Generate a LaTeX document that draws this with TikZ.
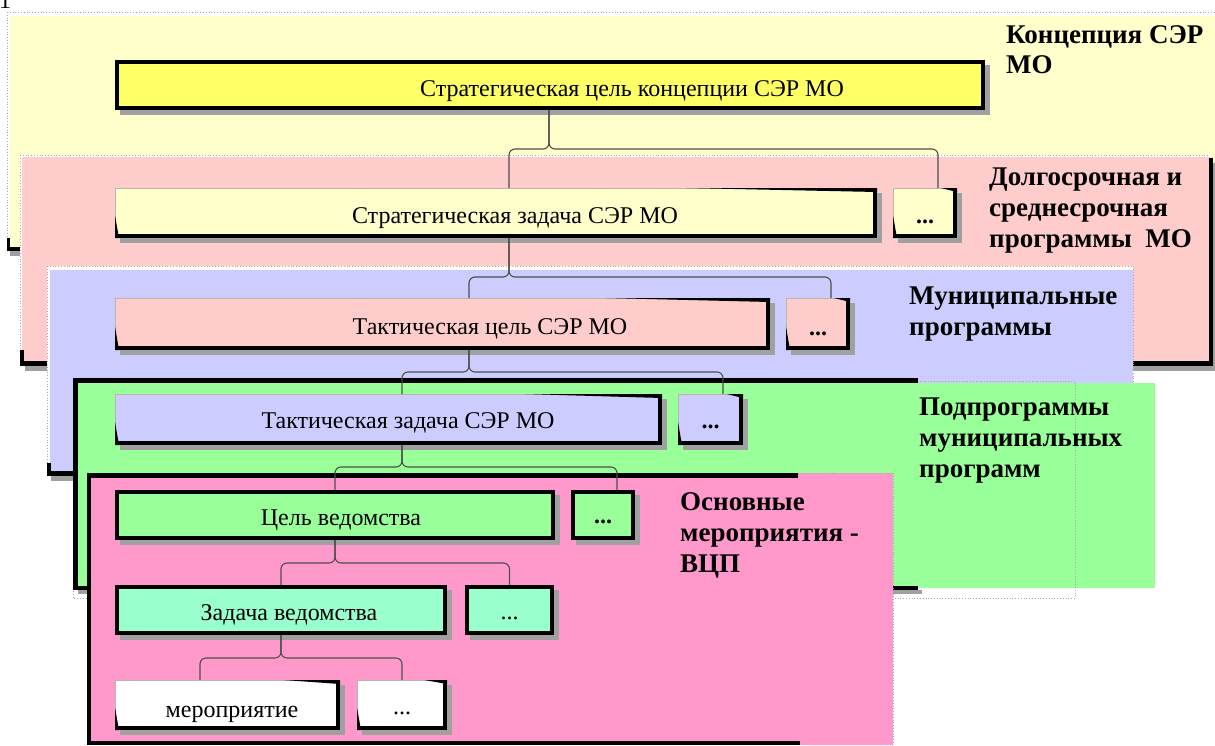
\documentclass[tikz,border=0pt]{standalone}
\usepackage{fontspec}
\setmainfont{Liberation Serif}
\usetikzlibrary{calc,shadows}
\definecolor{ylight}{HTML}{FFFFCC}
\definecolor{ybox}{HTML}{FFFF66}
\definecolor{pinkl}{HTML}{FFCCCC}
\definecolor{bluel}{HTML}{CCCCFF}
\definecolor{greenl}{HTML}{99FF99}
\definecolor{magl}{HTML}{FF99CC}
\definecolor{aqual}{HTML}{99FFCC}
\definecolor{shd}{HTML}{A0A0A0}
\definecolor{connc}{HTML}{4D4D4D}
\definecolor{dotc}{HTML}{A8A8A8}
\definecolor{thinb}{HTML}{BDB6A6}
\begin{document}
\begin{tikzpicture}[x=1pt,y=-1pt,
  bx/.style={rectangle, inner sep=0pt, outer sep=0pt,
     drop shadow={shadow xshift=5pt, shadow yshift=-5pt, fill=shd, opacity=1}},
  btxt/.style={font=\fontsize{24}{28}\selectfont, inner sep=0pt, anchor=base},
  bdots/.style={font=\fontsize{24}{28}\selectfont\bfseries, inner sep=0pt, anchor=base},
  ttl/.style={font=\fontsize{27}{31}\selectfont\bfseries, inner sep=0pt, anchor=base west},
  link/.style={draw=connc, line width=1.1pt, rounded corners=6pt},
  dotline/.style={draw=dotc, dotted, line width=0.8pt}]
\useasboundingbox (0,0) rectangle (1215,745);
\fill[white] (0,0) rectangle (1215,745);
\node[btxt] (pg) at (5,8) {1};

% ---------- panel 1 (yellow)
\fill[ylight] (10,16) rectangle (1215,252);
\draw[dotline] (7,12) -- (1215,12) (7,12) -- (7,240);
\fill[shd] (10,250) rectangle (23,256);
\fill (7,238) rectangle (10,251);
\fill (7,247) rectangle (22,251);

% ---------- panel 2 (pink)
\fill[shd] (25,163) rectangle (1218,371);
\fill[white] (20,155) rectangle (1213,366);
\fill[pinkl] (22,157) rectangle (1213,366);
\draw[dotline] (20,155) -- (1209,155) (20,155) -- (20,350);
\fill (1209,158) rectangle (1213,366);
\fill (20,361) rectangle (1213,366);
\fill (20,350) rectangle (24,366);

% ---------- panel 3 (blue)
\fill[white] (47,266) rectangle (1133,476);
\fill[bluel] (50,270) rectangle (1133,476);
\draw[dotline] (47,266) -- (1133,266) -- (1133,384) (47,266) -- (47,463);
\fill[shd] (51,476) rectangle (75,481);
\fill (47,463) rectangle (51,476);
\fill (47,471) rectangle (75,476);

% ---------- panel 4 (green)
\fill[greenl] (78,383) rectangle (1155,588);
\draw[dotline] (73,381) rectangle (1075,598);
\fill[shd] (78,590) rectangle (922,594);
\fill (73,378) rectangle (918,383);
\fill (73,378) rectangle (78,590);
\fill (73,586) rectangle (918,590);

% ---------- panel 5 (magenta)
\fill[magl] (87,473) rectangle (893,745);
\draw[dotline] (798,473) -- (893,473) -- (893,745);
\fill (87,473) rectangle (798,478);
\fill (87,473) rectangle (91,745);
\fill (87,741) rectangle (800,745);

% ---------- panel titles
\node[ttl] (h1a) at (1006,43) {Концепция СЭР};
\node[ttl] (h1b) at (1006,73) {МО};
\node[ttl] (h2a) at (989,185) {Долгосрочная и};
\node[ttl] (h2b) at (989,216) {среднесрочная};
\node[ttl] (h2c) at (989,247) {программы\ \ МО};
\node[ttl] (h3a) at (909,304) {Муниципальные};
\node[ttl] (h3b) at (909,335) {программы};
\node[ttl] (h4a) at (919,415) {Подпрограммы};
\node[ttl] (h4b) at (919,446) {муниципальных};
\node[ttl] (h4c) at (919,477) {программ};
\node[ttl] (h5a) at (680,510) {Основные};
\node[ttl] (h5b) at (680,541) {мероприятия -};
\node[ttl] (h5c) at (680,572) {ВЦП};

% ---------- boxes
\node[bx, fill=ybox,   minimum width=870pt, minimum height=50pt] (b1)  at (550,85) {};
\node[bx, fill=ylight, minimum width=762pt, minimum height=50pt] (b2)  at (496,213) {};
\node[bx, fill=ylight, minimum width=64pt,  minimum height=50pt] (b2d) at (925,213) {};
\node[bx, fill=pinkl,  minimum width=655pt, minimum height=52pt] (b3)  at (442.5,324) {};
\node[bx, fill=pinkl,  minimum width=64pt,  minimum height=52pt] (b3d) at (818,324) {};
\node[bx, fill=bluel,  minimum width=547pt, minimum height=51pt] (b4)  at (388.5,419.5) {};
\node[bx, fill=bluel,  minimum width=65pt,  minimum height=51pt] (b4d) at (710.5,419.5) {};
\node[bx, fill=greenl, minimum width=440pt, minimum height=50pt] (b5)  at (335,515) {};
\node[bx, fill=greenl, minimum width=64pt,  minimum height=50pt] (b5d) at (603,515) {};
\node[bx, fill=aqual,  minimum width=332pt, minimum height=50pt] (b6)  at (281,610) {};
\node[bx, fill=aqual,  minimum width=89pt,  minimum height=50pt] (b6d) at (509.5,610) {};
\node[bx, fill=white,  minimum width=225pt, minimum height=50pt] (b7)  at (227.5,705) {};
\node[bx, fill=white,  minimum width=90pt,  minimum height=50pt] (b7d) at (402,705) {};

% full black frames
\foreach \n in {b1,b5,b5d,b6,b6d}{
  \draw[line width=4pt] ([shift={(2pt,-2pt)}]\n.north west) rectangle ([shift={(-2pt,2pt)}]\n.south east);
}
% half (3D) frames
\foreach \n in {b2,b2d,b3,b3d,b4,b4d,b7,b7d}{
  \draw[thinb, line width=1pt] ([shift={(0.5pt,-0.5pt)}]\n.north west) rectangle ([shift={(-0.5pt,0.5pt)}]\n.south east);
  \fill (\n.south west) rectangle ([yshift=4pt]\n.south east);
  \fill ([xshift=-4pt]\n.north east) rectangle (\n.south east);
  \fill ($(\n.north west)!0.75!(\n.north east)$) -- (\n.north east) -- ([yshift=-4pt]\n.north east) -- cycle;
  \fill ($(\n.north west)!0.55!(\n.south west)$) -- (\n.south west) -- ([xshift=4pt]\n.south west) -- cycle;
}

% ---------- box texts
\node[btxt] (t1) at (632,96) {Стратегическая цель концепции СЭР МО};
\node[btxt] (t2) at (515,223) {Стратегическая задача СЭР МО};
\node[btxt] (t3) at (490,334) {Тактическая цель СЭР МО};
\node[btxt] (t4) at (408,428) {Тактическая задача СЭР МО};
\node[btxt] (t5) at (341,525) {Цель ведомства};
\node[btxt] (t6) at (289,620) {Задача ведомства};
\node[btxt] (t7) at (232,717) {мероприятие};
\node[bdots] (d2) at (925,223) {...};
\node[bdots] (d3) at (818,335) {...};
\node[bdots] (d4) at (710.5,428) {...};
\node[bdots] (d5) at (603,523) {...};
\node[btxt]  (d6) at (509.5,619) {...};
\node[btxt]  (d7) at (402,714) {...};

% ---------- connectors (braces)
\coordinate (p1) at ([xshift=-1pt]b1.south);
\coordinate (c1a) at ([xshift=13pt]b2.north);
\coordinate (c1b) at ([xshift=13pt]b2d.north);
\coordinate (y1) at (0,149);
\draw[link] (p1) -- (p1 |- y1) -- (c1a |- y1) -- (c1a);
\draw[link] (p1) -- (p1 |- y1) -- (c1b |- y1) -- (c1b);

\coordinate (p2) at ([xshift=13pt]b2.south);
\coordinate (c2a) at ([xshift=26.5pt]b3.north);
\coordinate (c2b) at ([xshift=13pt]b3d.north);
\coordinate (y2) at (0,277);
\draw[link] (p2) -- (p2 |- y2) -- (c2a |- y2) -- (c2a);
\draw[link] (p2) -- (p2 |- y2) -- (c2b |- y2) -- (c2b);

\coordinate (p3) at ([xshift=26.5pt]b3.south);
\coordinate (c3a) at ([xshift=13.5pt]b4.north);
\coordinate (c3b) at ([xshift=12.5pt]b4d.north);
\coordinate (y3) at (0,372);
\draw[link] (p3) -- (p3 |- y3) -- (c3a |- y3) -- (c3a);
\draw[link] (p3) -- (p3 |- y3) -- (c3b |- y3) -- (c3b);

\coordinate (p4) at ([xshift=13.5pt]b4.south);
\coordinate (c4a) at (b5.north);
\coordinate (c4b) at ([xshift=14pt]b5d.north);
\coordinate (y4) at (0,467);
\draw[link] (p4) -- (p4 |- y4) -- (c4a |- y4) -- (c4a);
\draw[link] (p4) -- (p4 |- y4) -- (c4b |- y4) -- (c4b);

\coordinate (p5) at (b5.south);
\coordinate (c5a) at (b6.north);
\coordinate (c5b) at (b6d.north);
\coordinate (y5) at (0,563);
\draw[link] (p5) -- (p5 |- y5) -- (c5a |- y5) -- (c5a);
\draw[link] (p5) -- (p5 |- y5) -- (c5b |- y5) -- (c5b);

\coordinate (p6) at (b6.south);
\coordinate (c6a) at ([xshift=-27.5pt]b7.north);
\coordinate (c6b) at (b7d.north);
\coordinate (y6) at (0,658);
\draw[link] (p6) -- (p6 |- y6) -- (c6a |- y6) -- (c6a);
\draw[link] (p6) -- (p6 |- y6) -- (c6b |- y6) -- (c6b);
\end{tikzpicture}
\end{document}
